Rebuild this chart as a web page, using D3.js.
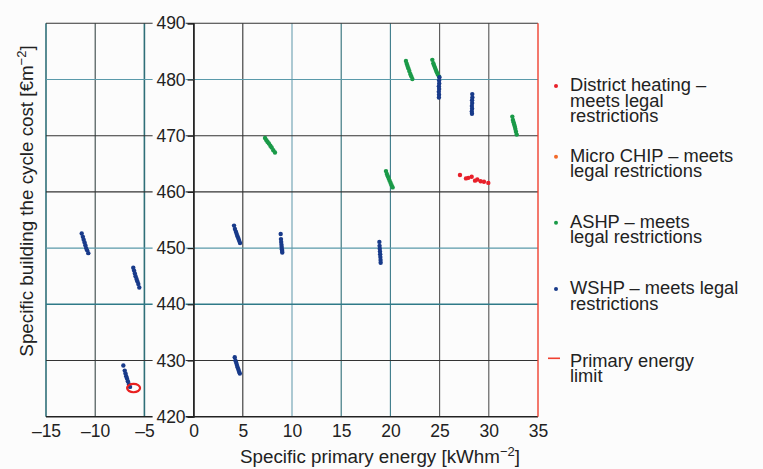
<!DOCTYPE html>
<html><head><meta charset="utf-8">
<script src="https://cdn.jsdelivr.net/npm/d3@7"></script>
<style>
html,body{margin:0;padding:0;background:#fcfcfc;}
svg{display:block;font-family:"Liberation Sans",Arial,sans-serif;}
</style></head>
<body><svg id="c" width="763" height="469"></svg>
<script>
// ---- data ----
const xTicks = [-15,-10,-5,0,5,10,15,20,25,30,35];
const yTicks = [420,430,440,450,460,470,480,490];
const seriesNames = ["District heating \u2013|meets legal|restrictions","Micro CHIP \u2013 meets|legal restrictions","ASHP \u2013 meets|legal restrictions","WSHP \u2013 meets legal|restrictions","Primary energy|limit"];
const districtHeating = [[27.07,463.0],[27.68,462.4],[27.92,462.5],[28.26,462.7],[28.60,462.0],[28.83,462.2],[29.17,461.9],[29.51,461.8],[29.95,461.6]];
const microCHIP = [];
const ashp = [
 [7.26,469.6],[7.4,469.2],[7.52,468.9],[7.65,468.6],[7.8,468.2],[7.93,467.9],[8.1,467.4],[8.27,467.0],
 [19.55,463.7],[19.64,463.2],[19.74,462.8],[19.83,462.4],[19.92,462.0],[20.02,461.6],[20.12,461.2],[20.23,460.8],
 [21.58,483.3],[21.66,482.8],[21.74,482.4],[21.82,482.0],[21.92,481.5],[22.02,481.0],[22.12,480.6],[22.23,480.1],
 [24.26,483.5],[24.36,482.9],[24.44,482.5],[24.53,482.1],[24.62,481.7],[24.72,481.3],[24.82,480.9],[24.95,480.5],
 [32.39,473.4],[32.45,472.8],[32.52,472.4],[32.58,472.0],[32.65,471.6],[32.7,471.2],[32.76,470.7],[32.84,470.2]
];
const wshp = [
 [-11.37,452.6],[-11.25,452.0],[-11.17,451.5],[-11.08,451.0],[-11.0,450.5],[-10.92,450.0],[-10.82,449.6],[-10.70,449.1],
 [-6.13,446.5],[-6.05,446.0],[-5.97,445.5],[-5.9,445.0],[-5.8,444.5],[-5.72,444.1],[-5.62,443.6],[-5.52,443.0],
 [-7.14,429.1],[-7.0,428.2],[-6.92,427.7],[-6.85,427.2],[-6.77,426.8],[-6.68,426.3],[-6.58,425.8],[-6.46,425.3],
 [4.11,454.0],[4.2,453.4],[4.3,452.9],[4.38,452.5],[4.46,452.1],[4.55,451.7],[4.63,451.3],[4.72,450.9],
 [8.85,452.5],[8.88,451.6],[8.9,451.1],[8.93,450.6],[8.95,450.2],[8.97,449.8],[9.0,449.5],[9.01,449.2],
 [4.18,430.6],[4.25,430.0],[4.33,429.6],[4.4,429.2],[4.47,428.8],[4.55,428.4],[4.62,428.0],[4.7,427.7],
 [18.88,451.1],[18.9,450.4],[18.92,449.9],[18.94,449.4],[18.96,448.9],[18.98,448.4],[19.0,447.9],[19.01,447.4],
 [24.98,480.4],[24.95,479.8],[24.96,479.3],[24.93,478.8],[24.95,478.3],[24.92,477.8],[24.94,477.3],[24.93,476.8],
 [28.32,477.4],[28.33,476.8],[28.3,476.3],[28.31,475.8],[28.28,475.3],[28.3,474.8],[28.27,474.3],[28.29,473.9]
];
const primaryEnergyLimit = 35;
const highlight = [-6.1,425.1];

// ---- chart ----
const svg = d3.select("#c");
const x = d3.scaleLinear().domain([-15,35]).range([46,538]);
const y = d3.scaleLinear().domain([420,490]).range([416.7,23.3]);
const colors = {dh:"#e8202a", chp:"#f26a2a", ashp:"#1a9a48", wshp:"#183a8a", limit:"#f04030"};
const txt = "#222";

// grid
const vCol = {"-15":"#2f6f78","-10":"#3a4848","-5":"#2f6f78","0":"#222","5":"#333","10":"#6a9fb0","15":"#2f6f78","20":"#3a7a88","25":"#555","30":"#555"};
const hCol = {"420":"#222","430":"#333","440":"#2f7a88","450":"#5a9aaa","460":"#333","470":"#333","480":"#5a9aaa","490":"#333"};
const g = svg.append("g");
g.selectAll("line.v").data(xTicks.filter(d=>d<35)).join("line")
  .attr("x1",d=>x(d)).attr("x2",d=>x(d)).attr("y1",y(420)).attr("y2",y(490))
  .attr("stroke",d=>vCol[d]).attr("stroke-width",d=>(d===-5||d===-15)?1.6:1.1);
g.selectAll("line.h").data(yTicks).join("line")
  .attr("x1",x(-15)).attr("x2",x(35)).attr("y1",d=>y(d)).attr("y2",d=>y(d))
  .attr("stroke",d=>hCol[d]).attr("stroke-width",d=>(d===440||d===420)?1.6:1.1);

// primary energy limit
g.append("line").attr("x1",x(primaryEnergyLimit)).attr("x2",x(primaryEnergyLimit))
  .attr("y1",y(420)).attr("y2",y(490)).attr("stroke",colors.limit).attr("stroke-width",1.4);

// y axis at x=0
const yAxis = svg.append("g").attr("transform",`translate(${x(0)},0)`)
  .call(d3.axisLeft(y).tickValues(yTicks).tickSize(6).tickPadding(2).tickFormat(d3.format("d")));
yAxis.select(".domain").attr("stroke","#222").attr("stroke-width",1.3);
yAxis.selectAll(".tick line").attr("stroke","#222").attr("stroke-width",1.2);
yAxis.selectAll(".tick").each(function(){
  d3.select(this).insert("rect","text").attr("x",-41).attr("y",-8).attr("width",33).attr("height",16).attr("fill","#fcfcfc");
});
yAxis.selectAll(".tick text").attr("font-size",17.5).attr("fill",txt).attr("font-family","Liberation Sans, Arial, sans-serif");

// x axis
const xAxis = svg.append("g").attr("transform",`translate(0,${y(420)})`)
  .call(d3.axisBottom(x).tickValues(xTicks).tickSize(0).tickPadding(8).tickFormat(d=>d<0?"\u2013"+Math.abs(d):d));
xAxis.select(".domain").remove();
xAxis.selectAll(".tick text").attr("font-size",17.5).attr("fill",txt).attr("font-family","Liberation Sans, Arial, sans-serif");

// points
function dots(data,col){
  svg.append("g").selectAll("circle").data(data).join("circle")
    .attr("cx",d=>x(d[0])).attr("cy",d=>y(d[1])).attr("r",2.2).attr("fill",col);
}
dots(districtHeating,colors.dh);
dots(microCHIP,colors.chp);
dots(ashp,colors.ashp);
dots(wshp,colors.wshp);

// highlight ellipse
svg.append("ellipse").attr("cx",x(highlight[0])).attr("cy",y(highlight[1]))
  .attr("rx",6.5).attr("ry",4.2).attr("fill","none").attr("stroke","#e82020").attr("stroke-width",2.2);

// axis titles
const xt = svg.append("text").attr("x",380).attr("y",463).attr("text-anchor","middle")
  .attr("font-size",18.8).attr("fill",txt);
xt.append("tspan").text("Specific primary energy [kWhm");
xt.append("tspan").attr("dy",-7).attr("font-size",13).text("\u22122");
xt.append("tspan").attr("dy",7).text("]");
const yt = svg.append("text").attr("transform","translate(33,201) rotate(-90)").attr("text-anchor","middle")
  .attr("font-size",18.8).attr("fill",txt);
yt.append("tspan").text("Specific building the cycle cost [\u20acm");
yt.append("tspan").attr("dy",-7).attr("font-size",13).text("\u22122");
yt.append("tspan").attr("dy",7).text("]");

// legend
const legendY = [91,161.7,227.7,294,366.7];
const legendCols = [colors.dh,colors.chp,colors.ashp,colors.wshp,colors.limit];
seriesNames.forEach((name,i)=>{
  const lines = name.split("|");
  const t = svg.append("text").attr("x",570).attr("y",legendY[i]).attr("font-size",18.3).attr("fill",txt);
  lines.forEach((l,j)=>t.append("tspan").attr("x",570).attr("dy",j===0?0:15.6).text(l));
  if(i<4){
    svg.append("circle").attr("cx",556).attr("cy",legendY[i]-5).attr("r",2).attr("fill",legendCols[i]);
  } else {
    svg.append("line").attr("x1",548).attr("x2",560).attr("y1",legendY[i]-8.4).attr("y2",legendY[i]-8.4)
      .attr("stroke",legendCols[i]).attr("stroke-width",1.6);
  }
});
</script></body></html>
